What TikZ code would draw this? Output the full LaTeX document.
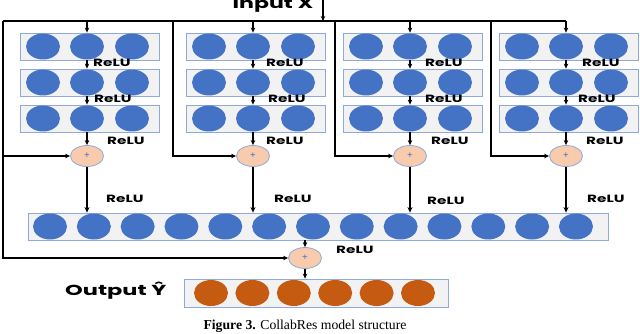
\documentclass[tikz,border=0pt]{standalone}
\usepackage{fontspec}
\usepackage{graphicx}
\setmainfont{Liberation Serif}
\newfontfamily\lblfont{Poppins}
\usetikzlibrary{arrows.meta,shapes.geometric}
\definecolor{nodeblue}{HTML}{4472C4}
\definecolor{boxfill}{HTML}{F2F2F2}
\definecolor{boxline}{HTML}{8EA9DB}
\definecolor{peach}{HTML}{F8CBAD}
\definecolor{outorange}{HTML}{C55A11}
\newcommand\relutext{\scalebox{1.45}[1]{ReLU}}
\tikzset{
  layerbox/.style={draw=boxline, fill=boxfill, line width=0.8pt, minimum height=27pt, inner sep=0pt},
  unit/.style={ellipse, fill=nodeblue, minimum width=34pt, minimum height=26pt, inner sep=0pt},
  outunit/.style={ellipse, fill=outorange, minimum width=34pt, minimum height=26pt, inner sep=0pt},
  plusnode/.style={ellipse, fill=peach, draw=boxline, line width=0.8pt, minimum width=33pt, minimum height=21pt, inner sep=0pt,
     font=\bfseries\fontsize{10}{10}\selectfont, text=nodeblue},
  relu/.style={anchor=west, inner sep=0pt, font=\lblfont\bfseries\fontsize{10.5}{10.5}\selectfont},
  biglabel/.style={inner sep=0pt, font=\lblfont\bfseries\fontsize{14.5}{14.5}\selectfont},
  wire/.style={line width=1.3pt, draw=black},
  arr/.style={wire, -{Stealth[length=5pt,width=4.5pt]}},
  arrthick/.style={line width=1.9pt, draw=black, -{Stealth[length=5.5pt,width=5pt]}},
}
\begin{document}
\begin{tikzpicture}[x=1pt,y=-1pt]
\useasboundingbox (0,0) rectangle (640,334);
\clip (0,0) rectangle (640,334);

% input
\node[biglabel, anchor=base] (inlbl) at (273,8.5) {\scalebox{1.52}[1]{Input X}};
\coordinate (inTop) at (323,-2);
\coordinate (inBot) at (323,21);
\draw[arr] (inTop) -- (inBot);

% big merge layer
\node[layerbox, minimum width=580pt] (big) at (318,226.5) {};
\foreach \k in {0,...,12}{
  \node[unit] (bu\k) at ({50+43.83*\k},226.5) {};
}

% final plus and output
\node[plusnode] (F) at (305,258) {+};
\node[layerbox, minimum width=264pt, minimum height=28pt] (out) at (316,293) {};
\foreach \k in {0,...,5}{
  \node[outunit] (ou\k) at ({211+41.4*\k},293) {};
}
\node[biglabel, anchor=west] (outlbl) at (65,291) {\scalebox{1.55}[1]{Output Ŷ}};
\node[relu] (rF) at (336,250) {\relutext};

% branches
\foreach \i/\cx/\sx/\ra/\rb/\rc/\rd/\rdy in {1/87/3/93/94/107/106/199, 2/253/173/266/268/266/274/199, 3/410/335/425/425/431/427/201, 4/566/491/582/578/586/587/199}{
  \coordinate (T\i) at (\cx,21);
  \coordinate (S\i) at (\sx,21);
  \coordinate (K\i) at (\sx,156);
  \foreach \r/\yy in {a/46.5, b/82.5, c/118.5}{
    \node[layerbox, minimum width=139pt] (L\i\r) at (\cx+2.5,\yy) {};
    \node[unit] (u\i\r1) at (\cx-44,\yy) {};
    \node[unit] (u\i\r2) at (\cx,\yy) {};
    \node[unit] (u\i\r3) at (\cx+45,\yy) {};
  }
  \node[plusnode] (P\i) at (\cx,156) {+};
  \draw[arr] (T\i) -- (L\i a.north -| T\i);
  \draw[arr] (L\i a.south -| T\i) -- (L\i b.north -| T\i);
  \draw[arr] (L\i b.south -| T\i) -- (L\i c.north -| T\i);
  \draw[arr] (L\i c.south -| T\i) -- (P\i.north);
  \draw[arr] (S\i) -- (K\i) -- (P\i.west);
  \draw[arrthick] (P\i.south) -- (P\i.south |- big.north);
  \node[relu] (r\i a) at (\ra,63) {\relutext};
  \node[relu] (r\i b) at (\rb,99) {\relutext};
  \node[relu] (r\i c) at (\rc,141) {\relutext};
  \node[relu] (r\i d) at (\rd,\rdy) {\relutext};
}
\draw[wire] (S1) -- (T4);
\coordinate (K0) at (3,258);
\draw[arr] (K1) -- (K0) -- (F.west);
\draw[arr] (big.south -| F) -- (F.north);
\draw[arr] (F.south) -- (F.south |- out.north);

% caption
\node[inner sep=0pt, font=\fontsize{13.7}{13.7}\selectfont] (cap) at (305,326) {\textbf{Figure 3.} CollabRes model structure};
\end{tikzpicture}
\end{document}
